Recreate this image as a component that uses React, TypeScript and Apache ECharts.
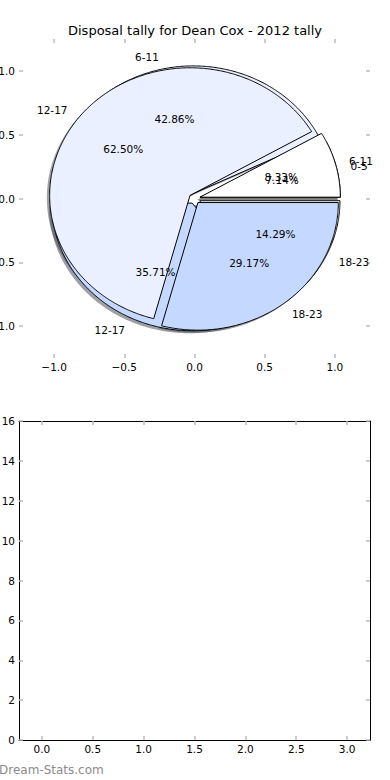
import React, { useEffect, useRef } from "react";
import * as echarts from "echarts";

const TITLE = "Disposal tally for Dean Cox - 2012 tally";
const WATERMARK = "Dream-Stats.com";
const PIE_A_LABELS = ["0-5", "6-11", "12-17", "18-23"];
const PIE_A_VALUES = [1, 6, 5, 2];
const PIE_B_LABELS = ["6-11", "12-17", "18-23"];
const PIE_B_VALUES = [2, 15, 7];
const WEDGE_COLORS = ["#FFFFFF", "#EAF0FF", "#C5D8FF"];
const PIE_TICKS = [-1.0, -0.5, 0.0, 0.5, 1.0];
const BOTTOM_X_TICKS = [0, 0.5, 1.0, 1.5, 2.0, 2.5, 3.0];

const FONT = "DejaVu Sans";
const EXPLODE = 0.04;
const R = 1;
const TICK_COLOR = "#bbbbbb";

type Wedge = {
  t1: number;
  t2: number;
  color: string;
  shadow: string;
  label: string;
  pct: string;
};

function shade(hex: string) {
  const n = parseInt(hex.slice(1), 16);
  const r = Math.round(((n >> 16) & 255) * 0.3);
  const g = Math.round(((n >> 8) & 255) * 0.3);
  const b = Math.round((n & 255) * 0.3);
  return `rgba(${r},${g},${b},0.5)`;
}

function buildWedges(labels: string[], values: number[]): Wedge[] {
  const total = values.reduce((a, b) => a + b, 0);
  let theta = 0;
  return values.map((v, i) => {
    const t1 = theta;
    const t2 = theta + (360 * v) / total;
    theta = t2;
    const color = WEDGE_COLORS[i % WEDGE_COLORS.length];
    return {
      t1,
      t2,
      color,
      shadow: shade(color),
      label: labels[i],
      pct: ((100 * v) / total).toFixed(2) + "%",
    };
  });
}

const WEDGES: Wedge[] = [
  ...buildWedges(PIE_A_LABELS, PIE_A_VALUES),
  ...buildWedges(PIE_B_LABELS, PIE_B_VALUES),
];

function wedgePoints(api: any, w: Wedge, dx: number, dy: number) {
  const tm = (((w.t1 + w.t2) / 2) * Math.PI) / 180;
  const cx = EXPLODE * Math.cos(tm) + dx;
  const cy = EXPLODE * Math.sin(tm) + dy;
  const pts: number[][] = [api.coord([cx, cy])];
  const n = Math.max(2, Math.ceil((w.t2 - w.t1) * 2));
  for (let k = 0; k <= n; k++) {
    const t = ((w.t1 + ((w.t2 - w.t1) * k) / n) * Math.PI) / 180;
    pts.push(api.coord([cx + R * Math.cos(t), cy + R * Math.sin(t)]));
  }
  return pts;
}

const fmtPie = (v: number) => (v < 0 ? "\u2212" : "") + Math.abs(v).toFixed(1);

export default function App() {
  const ref = useRef<HTMLDivElement>(null);

  useEffect(() => {
    document.body.style.margin = "0";
    if (!ref.current) return;
    const chart = echarts.init(ref.current, undefined, { renderer: "svg" });

    const tickBase = {
      show: true,
      inside: true,
      length: 4,
      lineStyle: { color: TICK_COLOR, width: 1.5 },
    };
    const labelBase = {
      color: "#000",
      fontSize: 10.5,
      fontFamily: FONT,
    };
    const hiddenLine = { show: false, onZero: false };
    const spine = { show: true, onZero: false, lineStyle: { color: "#000", width: 1 } };
    const itemData = WEDGES.map((_, i) => [0, 0, i]);

    const option: any = {
      animation: false,
      backgroundColor: "#fff",
      grid: [
        { left: 19, top: 39, width: 351, height: 319, containLabel: false, outerBoundsMode: "none" },
        { left: 19, top: 421, width: 351, height: 319, containLabel: false, outerBoundsMode: "none" },
      ],
      xAxis: [
        {
          type: "value",
          gridIndex: 0,
          position: "bottom",
          min: -1.25,
          max: 1.25,
          axisLine: hiddenLine,
          axisTick: { ...tickBase, customValues: PIE_TICKS },
          axisLabel: { ...labelBase, margin: 3, customValues: PIE_TICKS, formatter: fmtPie },
          splitLine: { show: false },
        },
        {
          type: "value",
          gridIndex: 0,
          position: "top",
          min: -1.25,
          max: 1.25,
          axisLine: hiddenLine,
          axisTick: { ...tickBase, customValues: PIE_TICKS },
          axisLabel: { show: false },
          splitLine: { show: false },
        },
        {
          type: "value",
          gridIndex: 1,
          position: "bottom",
          min: -0.225,
          max: 3.225,
          axisLine: spine,
          axisTick: { ...tickBase, customValues: BOTTOM_X_TICKS },
          axisLabel: {
            ...labelBase,
            margin: 3,
            customValues: BOTTOM_X_TICKS,
            formatter: (v: number) => v.toFixed(1),
          },
          splitLine: { show: false },
        },
        {
          type: "value",
          gridIndex: 1,
          position: "top",
          min: -0.225,
          max: 3.225,
          axisLine: spine,
          axisTick: { ...tickBase, customValues: BOTTOM_X_TICKS },
          axisLabel: { show: false },
          splitLine: { show: false },
        },
      ],
      yAxis: [
        {
          type: "value",
          gridIndex: 0,
          position: "left",
          min: -1.25,
          max: 1.25,
          axisLine: hiddenLine,
          axisTick: { ...tickBase, customValues: PIE_TICKS },
          axisLabel: { ...labelBase, margin: 4, customValues: PIE_TICKS, formatter: fmtPie },
          splitLine: { show: false },
        },
        {
          type: "value",
          gridIndex: 0,
          position: "right",
          min: -1.25,
          max: 1.25,
          axisLine: hiddenLine,
          axisTick: { ...tickBase, customValues: PIE_TICKS },
          axisLabel: { show: false },
          splitLine: { show: false },
        },
        {
          type: "value",
          gridIndex: 1,
          position: "left",
          min: 0,
          max: 16,
          interval: 2,
          axisLine: spine,
          axisTick: tickBase,
          axisLabel: { ...labelBase, margin: 4 },
          splitLine: { show: false },
        },
        {
          type: "value",
          gridIndex: 1,
          position: "right",
          min: 0,
          max: 16,
          interval: 2,
          axisLine: spine,
          axisTick: tickBase,
          axisLabel: { show: false },
          splitLine: { show: false },
        },
      ],
      series: [
        {
          type: "custom",
          name: "shadows",
          xAxisIndex: 0,
          yAxisIndex: 0,
          z: 1,
          silent: true,
          data: itemData,
          renderItem: (params: any, api: any) => {
            const w = WEDGES[params.dataIndex];
            return {
              type: "polygon",
              shape: { points: wedgePoints(api, w, -0.02, -0.02) },
              style: { fill: w.shadow, stroke: "none" },
            };
          },
        },
        {
          type: "custom",
          name: "wedges",
          xAxisIndex: 0,
          yAxisIndex: 0,
          z: 2,
          silent: true,
          data: itemData,
          renderItem: (params: any, api: any) => {
            const w = WEDGES[params.dataIndex];
            return {
              type: "polygon",
              shape: { points: wedgePoints(api, w, 0, 0) },
              style: { fill: w.color, stroke: "#000", lineWidth: 1, lineJoin: "miter" },
            };
          },
        },
        {
          type: "custom",
          name: "labels",
          xAxisIndex: 0,
          yAxisIndex: 0,
          z: 3,
          silent: true,
          data: itemData,
          renderItem: (params: any, api: any) => {
            const w = WEDGES[params.dataIndex];
            const tm = (((w.t1 + w.t2) / 2) * Math.PI) / 180;
            const cx = EXPLODE * Math.cos(tm);
            const cy = EXPLODE * Math.sin(tm);
            const lx = cx + 1.1 * R * Math.cos(tm);
            const ly = cy + 1.1 * R * Math.sin(tm);
            const px = cx + 0.6 * R * Math.cos(tm);
            const py = cy + 0.6 * R * Math.sin(tm);
            const lp = api.coord([lx, ly]);
            const pp = api.coord([px, py]);
            return {
              type: "group",
              children: [
                {
                  type: "text",
                  x: lp[0],
                  y: lp[1],
                  style: {
                    text: w.label,
                    fill: "#000",
                    fontSize: 10.5,
                    fontFamily: FONT,
                    align: lx > 0 ? "left" : "right",
                    verticalAlign: "middle",
                  },
                },
                {
                  type: "text",
                  x: pp[0],
                  y: pp[1],
                  style: {
                    text: w.pct,
                    fill: "#000",
                    fontSize: 10.5,
                    fontFamily: FONT,
                    align: "center",
                    verticalAlign: "middle",
                  },
                },
              ],
            };
          },
        },
      ],
      graphic: [
        {
          type: "text",
          x: 195,
          y: 30,
          style: {
            text: TITLE,
            fill: "#000",
            fontSize: 13,
            fontFamily: FONT,
            align: "center",
            verticalAlign: "middle",
          },
        },
        {
          type: "text",
          x: -1,
          y: 770,
          style: {
            text: WATERMARK,
            fill: "#8c8c8c",
            fontSize: 12,
            fontFamily: FONT,
            align: "left",
            verticalAlign: "middle",
          },
        },
      ],
    };

    chart.setOption(option);
    return () => chart.dispose();
  }, []);

  return <div ref={ref} style={{ width: 390, height: 780 }} />;
}
